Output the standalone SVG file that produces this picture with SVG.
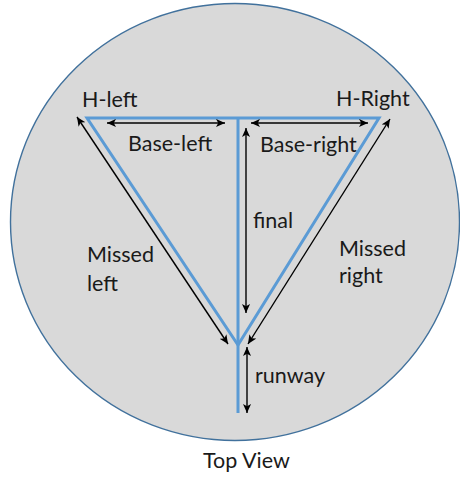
<svg xmlns="http://www.w3.org/2000/svg" width="460" height="479" viewBox="0 0 460 479">
<defs>
<marker id="ah" viewBox="0 0 10 10" refX="10" refY="5" markerWidth="9" markerHeight="9" markerUnits="userSpaceOnUse" orient="auto-start-reverse">
<path d="M0,0.5 L10,5 L0,9.5 L2.5,5 Z" fill="#000"/>
</marker>
</defs>
<style>
.t{font-family:Lato,"Liberation Sans",Arial,sans-serif;font-size:21.5px;fill:#1a1a1a}
.blue{stroke:#5b9bd5;stroke-width:3;fill:none}
.arr{stroke:#000;stroke-width:1.4;fill:none;marker-start:url(#ah);marker-end:url(#ah)}
</style>
<rect width="460" height="479" fill="#fff"/>
<g id="field">
<ellipse cx="235" cy="222" rx="224.5" ry="218.5" fill="#d9d9d9" stroke="#41719c" stroke-width="1.4"/>
</g>
<g id="pattern">
<path class="blue" d="M87,118 L379,118 L238,345 Z"/>
<path class="blue" d="M238,118 L238,413"/>
</g>
<g id="connectors">
<line class="arr" x1="77" y1="117" x2="228" y2="344"/>
<line class="arr" x1="390" y1="119" x2="248" y2="344"/>
<line class="arr" x1="107" y1="123" x2="225" y2="123"/>
<line class="arr" x1="251" y1="123" x2="368" y2="123"/>
<line class="arr" x1="246" y1="128" x2="246" y2="313"/>
<line class="arr" x1="247" y1="347" x2="247" y2="413"/>
</g>
<g id="labels">
<text class="t" x="82" y="107">H-left</text>
<text class="t" x="336" y="106">H-Right</text>
<text class="t" x="128" y="151">Base-left</text>
<text class="t" x="260" y="152">Base-right</text>
<text class="t" x="253" y="228">final</text>
<text class="t" x="87" y="262">Missed</text>
<text class="t" x="87" y="291">left</text>
<text class="t" x="339" y="256">Missed</text>
<text class="t" x="339" y="283">right</text>
<text class="t" x="255" y="383">runway</text>
<text class="t" x="203" y="468">Top View</text>
</g>
</svg>
